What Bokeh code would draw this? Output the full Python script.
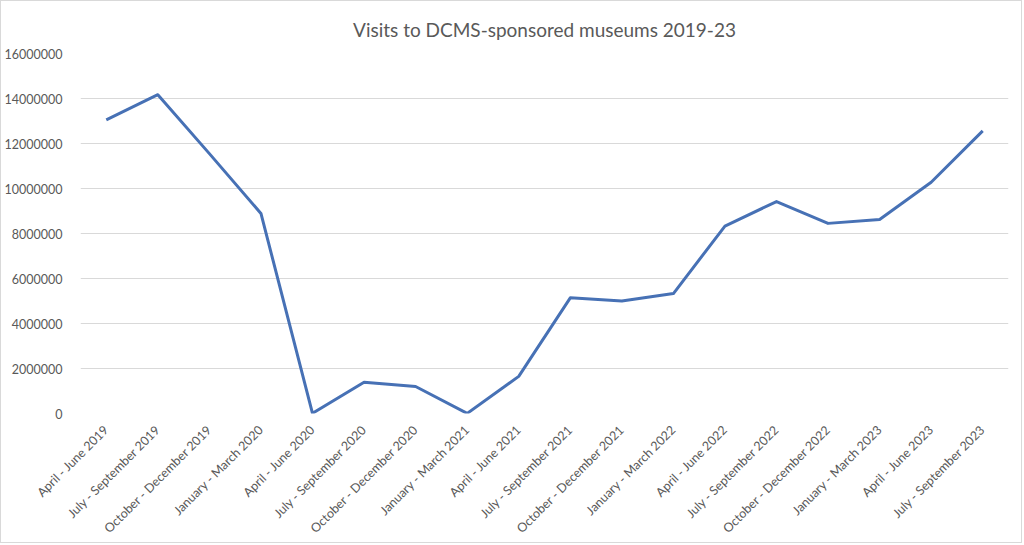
from bokeh.plotting import figure
from bokeh.models import FixedTicker, BasicTickFormatter, Range1d, FactorRange
from bokeh.embed import file_html
from bokeh.resources import INLINE
import math

quarters = [
    "April - June 2019", "July - September 2019", "October - December 2019",
    "January - March 2020", "April - June 2020", "July - September 2020",
    "October - December 2020", "January - March 2021", "April - June 2021",
    "July - September 2021", "October - December 2021", "January - March 2022",
    "April - June 2022", "July - September 2022", "October - December 2022",
    "January - March 2023", "April - June 2023", "July - September 2023",
]
visits = [
    13050000, 14170000, 11550000, 8890000, 10000, 1390000,
    1200000, 5000, 1650000, 5140000, 5000000, 5330000,
    8330000, 9420000, 8450000, 8620000, 10280000, 12560000,
]
y_ticks = [0, 2000000, 4000000, 6000000, 8000000, 10000000, 12000000, 14000000, 16000000]

FONT = "Lato"
GREY = "#595959"

p = figure(
    width=1022, height=543,
    x_range=FactorRange(*quarters, range_padding=0),
    y_range=Range1d(0, 16000000),
    output_backend="svg", toolbar_location=None,
    min_border_left=74, min_border_right=15, min_border_top=52, min_border_bottom=131,
    title="Visits to DCMS-sponsored museums 2019-23",
)
p.styles = {"border": "1px solid #D9D9D9"}
p.x_range.factor_padding = 0
p.title.align = "center"
p.title.text_font = FONT
p.title.text_font_size = "19px"
p.title.text_font_style = "normal"
p.title.text_color = GREY
p.title.text_line_height = 1.0
p.title.standoff = 26

p.line(x=quarters, y=visits, line_color="#4771B5", line_width=3, line_join="round")

p.outline_line_color = None
p.background_fill_color = "white"
p.border_fill_color = "white"

p.yaxis.ticker = FixedTicker(ticks=y_ticks)
p.yaxis.formatter = BasicTickFormatter(use_scientific=False)
p.ygrid.ticker = FixedTicker(ticks=y_ticks)
p.ygrid.grid_line_color = "#D9D9D9"
p.ygrid.grid_line_width = 1
p.xgrid.grid_line_color = None

for ax in (p.xaxis, p.yaxis):
    ax.axis_line_color = None
    ax.major_tick_line_color = None
    ax.minor_tick_line_color = None
    ax.major_label_text_font = FONT
    ax.major_label_text_font_size = "12.5px"
    ax.major_label_text_color = GREY

p.xaxis.major_label_orientation = math.pi / 4
p.xaxis.major_label_standoff = 8
p.yaxis.major_label_standoff = 12

open("out.html", "w").write(file_html(p, INLINE))
